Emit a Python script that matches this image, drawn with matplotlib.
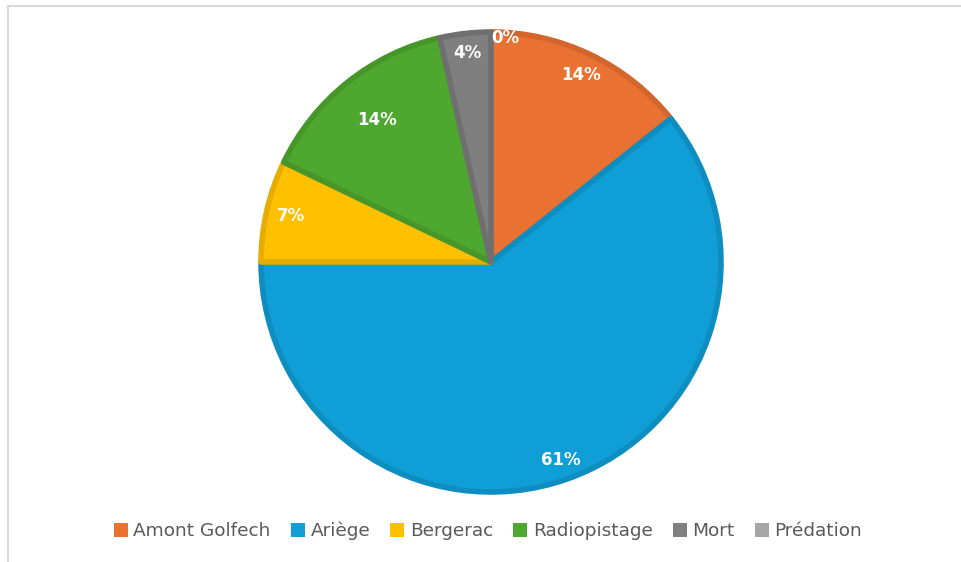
import numpy as np
import matplotlib
matplotlib.use("Agg")
import matplotlib.pyplot as plt
from matplotlib.patches import Patch
from matplotlib.lines import Line2D

# counts per outcome (28 fish in total)
labels = ["Amont Golfech", "Ariège", "Bergerac", "Radiopistage", "Mort", "Prédation"]
counts = [4, 17, 2, 4, 1, 0]
pcts = ["14%", "61%", "7%", "14%", "4%", "0%"]

fills = ["#E97132", "#0F9ED5", "#FFC000", "#4EA72E", "#7F7F7F", "#A6A6A6"]
edges = ["#D2662D", "#0E8EC0", "#E6AD00", "#46962A", "#6F6F6F", "#959595"]
# radial position of each label (fraction of radius)
label_r = [0.89, 0.90, 0.88, 0.78, 0.90, 0.96]

fig = plt.figure(figsize=(9.62, 5.62), dpi=100)
fig.patch.set_facecolor("white")

# light frame (top and left edges visible)
fig.add_artist(Line2D([8 / 962, 1.0], [1 - 6 / 562, 1 - 6 / 562], color="#D9D9D9", lw=1.5))
fig.add_artist(Line2D([8 / 962, 8 / 962], [0.0, 1 - 6 / 562], color="#D9D9D9", lw=1.5))

R = 233.5
cx, cy = 491, 262
ax = fig.add_axes([(cx - R) / 962, (562 - cy - R) / 562, 2 * R / 962, 2 * R / 562])

wedges, _ = ax.pie(counts, colors=fills, startangle=90, counterclock=False,
                   radius=0.985, wedgeprops=dict(linewidth=4, joinstyle="round"))
for w, ec, c in zip(wedges, edges, counts):
    if c > 0:
        w.set_edgecolor(ec)
    else:
        w.set_linewidth(0)

ax.set_xlim(-1, 1)
ax.set_ylim(-1, 1)
ax.set_aspect("equal")
ax.axis("off")

for w, txt, r, c in zip(wedges, pcts, label_r, counts):
    ang = np.deg2rad((w.theta1 + w.theta2) / 2)
    x, y = r * np.cos(ang), r * np.sin(ang)
    ha = "center" if c > 0 else "left"
    ax.text(x, y, txt, ha=ha, va="center", color="white",
            fontsize=12, fontweight="bold")

handles = [Patch(facecolor=f, edgecolor="none") for f in fills]
fig.legend(handles, labels, loc="center", bbox_to_anchor=(488 / 962, 1 - 531 / 562),
           ncol=6, frameon=False, fontsize=13.3, labelcolor="#595959",
           handlelength=0.75, handleheight=0.75, handletextpad=0.3,
           columnspacing=1.1)

fig.savefig("out.png", dpi=100)
